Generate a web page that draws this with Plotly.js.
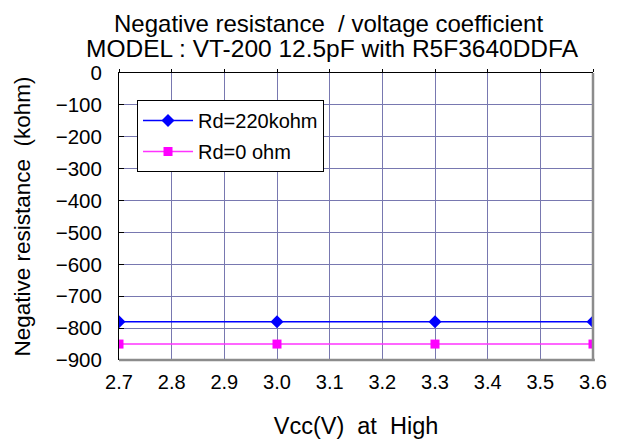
<!DOCTYPE html>
<html>
<head>
<meta charset="utf-8">
<script src="https://cdn.plot.ly/plotly-3.0.1.min.js"></script>
<style>html,body{margin:0;padding:0;background:#fff;}#chart{width:620px;height:439px;}</style>
</head>
<body>
<div id="chart"></div>
<script>
const vcc = [2.7, 3.0, 3.3, 3.6];
const rd220k = [-780, -780, -780, -780];
const rd0 = [-850, -850, -850, -850];
const seriesNames = ['Rd=220kohm', 'Rd=0 ohm'];
const titleLines = ['Negative resistance  / voltage coefficient', 'MODEL : VT-200 12.5pF with R5F3640DDFA'];
const xTitle = 'Vcc(V)  at  High';
const yTitle = 'Negative resistance  (kohm)';

const FONT = 'Arial, "Liberation Sans", sans-serif';
const GRID = '#7878b0';

const traces = [
  {x: vcc, y: rd220k, name: seriesNames[0], mode: 'lines+markers', legendgroup: 'a',
   line: {color: '#0000ff', width: 1.3}, marker: {symbol: 'diamond', size: 10, color: '#0000ff'}},
  {x: vcc, y: rd0, name: seriesNames[1], mode: 'lines+markers', legendgroup: 'b',
   line: {color: '#ff33ff', width: 1.6}, marker: {symbol: 'square', size: 9, color: '#ff00ff'}},
  {x: [], y: [], xaxis: 'x2', showlegend: false, hoverinfo: 'skip'}
];

const layout = {
  width: 620, height: 439,
  margin: {l: 119, r: 27, t: 73, b: 79},
  paper_bgcolor: '#fff', plot_bgcolor: '#fff',
  font: {family: FONT, color: '#000', size: 20},
  showlegend: true,
  legend: {x: 0.038, y: 0.906, xanchor: 'left', yanchor: 'top',
    bgcolor: '#fff', bordercolor: '#000', borderwidth: 1,
    font: {family: FONT, size: 20, color: '#000'},
    traceorder: 'grouped', tracegroupgap: 2, itemwidth: 50},
  xaxis: {range: [2.7, 3.6], dtick: 0.1, tick0: 2.7, tickformat: '.1f',
    showgrid: true, gridcolor: GRID, gridwidth: 1, zeroline: false, showline: false,
    ticks: '', ticklabelstandoff: 8,
    tickfont: {family: FONT, size: 20, color: '#000'},
    title: {text: xTitle, font: {family: FONT, size: 23.5, color: '#000'}, standoff: 26}},
  xaxis2: {overlaying: 'x', side: 'top', range: [2.7, 3.6], dtick: 0.1, tick0: 2.7,
    showgrid: false, zeroline: false, showline: true, linecolor: '#000', linewidth: 1,
    ticks: 'outside', ticklen: 3, tickcolor: '#000', showticklabels: false},
  yaxis: {range: [-900, 0], dtick: 100, tick0: 0,
    showgrid: true, gridcolor: GRID, gridwidth: 1, zeroline: false,
    showline: true, linecolor: '#000', linewidth: 1,
    ticks: 'inside', ticklen: 5, tickcolor: '#000', ticklabelstandoff: 12,
    tickfont: {family: FONT, size: 20.5, color: '#000'},
    title: {text: yTitle, font: {family: FONT, size: 22.5, color: '#000'}, standoff: 18}},
  shapes: [
    {type: 'line', xref: 'paper', yref: 'paper', x0: 0, x1: 1.004, y0: 0, y1: 0, line: {color: '#8c8c8c', width: 2.5}},
    {type: 'line', xref: 'paper', yref: 'paper', x0: 1, x1: 1, y0: 0, y1: 1, line: {color: '#8c8c8c', width: 2.5}}
  ],
  annotations: [
    {text: titleLines[0], xref: 'paper', yref: 'paper', x: 0.441, y: 1.174, xanchor: 'center', yanchor: 'middle', showarrow: false, font: {family: FONT, size: 24, color: '#000'}},
    {text: titleLines[1], xref: 'paper', yref: 'paper', x: 0.45, y: 1.085, xanchor: 'center', yanchor: 'middle', showarrow: false, font: {family: FONT, size: 24.5, color: '#000'}}
  ]
};

Plotly.newPlot('chart', traces, layout, {displayModeBar: false, staticPlot: true});
</script>
</body>
</html>
